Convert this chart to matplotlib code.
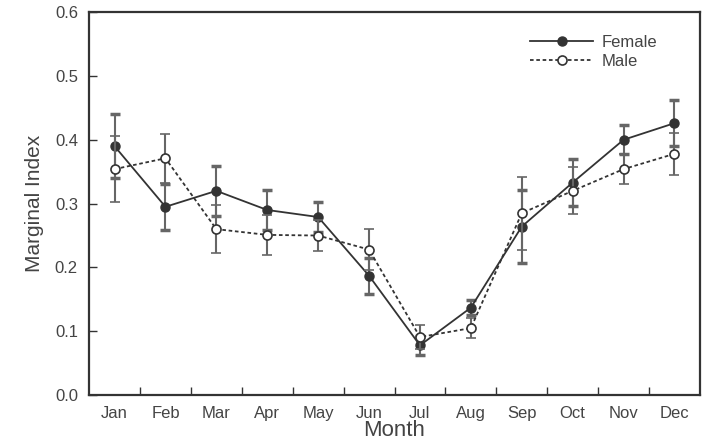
import numpy as np
import matplotlib
matplotlib.use("Agg")
from matplotlib import pyplot as plt
from matplotlib.lines import Line2D

plt.rcParams['font.family'] = ['Liberation Sans', 'DejaVu Sans']

months = ['Jan', 'Feb', 'Mar', 'Apr', 'May', 'Jun', 'Jul', 'Aug', 'Sep', 'Oct', 'Nov', 'Dec']
female = [0.390, 0.295, 0.320, 0.290, 0.279, 0.187, 0.078, 0.137, 0.264, 0.333, 0.400, 0.426]
female_err = [0.050, 0.036, 0.039, 0.031, 0.024, 0.028, 0.015, 0.012, 0.057, 0.037, 0.023, 0.036]
male = [0.354, 0.371, 0.260, 0.251, 0.250, 0.228, 0.091, 0.105, 0.285, 0.320, 0.354, 0.378]
male_err = [0.052, 0.038, 0.038, 0.031, 0.024, 0.032, 0.019, 0.016, 0.057, 0.037, 0.024, 0.033]

dark = '#333333'
grey = '#444444'
male_ls = (0, (2, 1.5))

fig = plt.figure(figsize=(7.07, 4.47), dpi=100)
ax = fig.add_axes([0.126, 0.116, 0.864, 0.857])

x = np.arange(len(months))
ax.errorbar(x, female, yerr=female_err, fmt='-o', color=dark, ecolor='#666666',
            elinewidth=1.5, capsize=3.5, capthick=2.5, markersize=6.5,
            markerfacecolor=dark, markeredgecolor=dark, lw=1.3, zorder=3)
ax.errorbar(x, male, yerr=male_err, fmt='o', linestyle=male_ls, color=dark,
            ecolor='#666666', elinewidth=1.5, capsize=3.5, capthick=2.5, markersize=6.5,
            markerfacecolor='white', markeredgecolor=dark, mew=1.2, lw=1.3, zorder=4)

ax.set_xlim(-0.5, 11.5)
ax.set_ylim(0, 0.6)
ax.set_xticks(x)
ax.set_xticklabels(months)
ax.set_xticks(x[:-1] + 0.5, minor=True)
ax.tick_params(axis='x', which='major', length=0, pad=8, labelsize=12, labelcolor=grey)
ax.tick_params(axis='x', which='minor', direction='in', length=6, width=1, color=dark)
ax.set_yticks(np.arange(0, 0.61, 0.1))
ax.set_yticklabels(['%.1f' % v for v in np.arange(0, 0.61, 0.1)])
ax.tick_params(axis='y', direction='in', length=6, width=1, color=dark,
               labelsize=12, labelcolor=grey, pad=8)

for s in ax.spines.values():
    s.set_linewidth(1.6)
    s.set_color(dark)

ax.set_xlabel('Month', fontsize=16, color=grey, labelpad=-1)
ax.set_ylabel('Marginal Index', fontsize=15, color=grey, labelpad=8)

handles = [
    Line2D([], [], color=dark, lw=1.3, marker='o', markersize=6.5,
           markerfacecolor=dark, markeredgecolor=dark),
    Line2D([], [], color=dark, lw=1.3, linestyle=male_ls, marker='o', markersize=6.5,
           markerfacecolor='white', markeredgecolor=dark, mew=1.2),
]
leg = ax.legend(handles, ['Female', 'Male'], loc='upper right',
                bbox_to_anchor=(0.955, 0.98), frameon=False, fontsize=12,
                handlelength=3.8, labelspacing=0.25, handletextpad=0.5)
for t in leg.get_texts():
    t.set_color(grey)

fig.savefig('out.png', dpi=100)
